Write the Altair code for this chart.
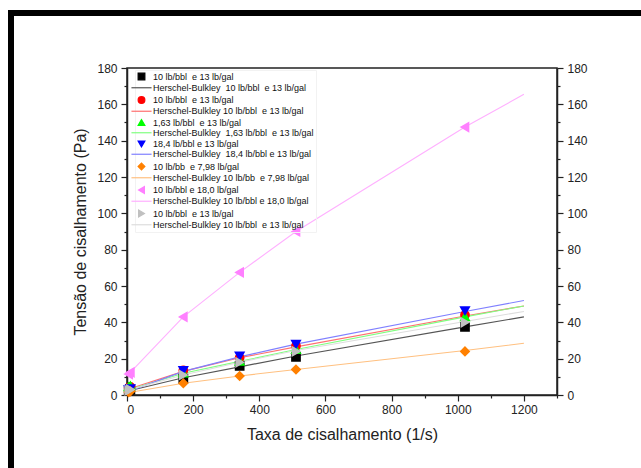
import altair as alt
import pandas as pd

# ---- data ----
keys = ["00", "01", "02", "03", "04", "05", "06", "07", "08", "09", "10", "11", "12", "13"]
labels = [
    "10 lb/bbl  e 13 lb/gal",
    "Herschel-Bulkley  10 lb/bbl  e 13 lb/gal",
    "10 lb/bbl  e 13 lb/gal",
    "Herschel-Bulkley 10 lb/bbl  e 13 lb/gal",
    "1,63 lb/bbl  e 13 lb/gal",
    "Herschel-Bulkley  1,63 lb/bbl  e 13 lb/gal",
    "18,4 lb/bbl e 13 lb/gal",
    "Herschel-Bulkley  18,4 lb/bbl e 13 lb/gal",
    "10 lb/bb  e 7,98 lb/gal",
    "Herschel-Bulkley 10 lb/bb  e 7,98 lb/gal",
    "10 lb/bbl e 18,0 lb/gal",
    "Herschel-Bulkley 10 lb/bbl e 18,0 lb/gal",
    "10 lb/bbl  e 13 lb/gal",
    "Herschel-Bulkley 10 lb/bbl  e 13 lb/gal",
]
colors = ["#000000", "#555555", "#ff0000", "#ff7070", "#00ff00", "#80ff80",
          "#0000ff", "#8080ff", "#ff8000", "#ffc080", "#ff80ff", "#ffb0ff",
          "#c0c0c0", "#dddddd"]
LINE = "M-3,0H3"
shapes = ["square", LINE, "circle", LINE, "triangle-up", LINE, "triangle-down", LINE,
          "diamond", LINE, "triangle-left", LINE, "triangle-right", LINE]

shear_rate = [5.11, 10.22, 170.3, 340.6, 510.9, 1021.8]
pts_black = [2.5, 3.0, 9.0, 16.0, 21.0, 37.5]
pts_red = [4.0, 4.5, 13.5, 20.5, 27.0, 44.0]
pts_green = [4.5, 5.0, 12.0, 18.5, 25.0, 43.0]
pts_blue = [3.0, 3.5, 13.5, 21.5, 28.0, 46.5]
pts_orange = [1.5, 2.0, 6.5, 10.5, 14.0, 24.0]
pts_pink = [11.5, 12.5, 43.0, 67.5, 90.0, 147.5]
pts_gray = [2.5, 3.0, 11.0, 18.0, 24.0, 40.0]

fit_rate = [5.11, 10.22, 170.3, 340.6, 510.9, 1021.8, 1200]
hb_black = [2.0, 2.5, 9.5, 15.5, 21.5, 37.5, 43.0]
hb_red = [3.0, 3.6, 13.0, 20.5, 26.5, 43.5, 49.0]
hb_green = [2.5, 3.2, 12.0, 18.5, 25.0, 43.0, 49.0]
hb_blue = [1.5, 2.3, 13.0, 21.0, 28.0, 46.0, 52.0]
hb_orange = [1.0, 1.5, 6.5, 10.5, 14.0, 24.5, 28.5]
hb_pink = [11.5, 12.5, 43.0, 67.5, 90.0, 147.5, 165.5]
hb_gray = [2.5, 3.0, 11.0, 18.0, 24.5, 40.5, 46.0]

pt_series = [("00", pts_black), ("02", pts_red), ("04", pts_green), ("06", pts_blue),
             ("08", pts_orange), ("10", pts_pink), ("12", pts_gray)]
hb_series = [("01", hb_black), ("03", hb_red), ("05", hb_green), ("07", hb_blue),
             ("09", hb_orange), ("11", hb_pink), ("13", hb_gray)]

pts = pd.DataFrame([{"key": k, "x": x, "y": y}
                    for k, ys in pt_series for x, y in zip(shear_rate, ys)])
fits = pd.DataFrame([{"key": k, "x": x, "y": y, "o": i}
                     for k, ys in hb_series for i, (x, y) in enumerate(zip(fit_rate, ys))])

FONT = "Liberation Sans"
shown = [l.replace("  ", " \u00a0") for l in labels]
label_expr = "[" + ",".join("'" + l + "'" for l in shown) + "][toNumber(datum.label)]"

legend = alt.Legend(
    title=None, orient="none", legendX=8, legendY=2,
    labelExpr=label_expr, labelFont=FONT, labelFontSize=9, labelColor="#111",
    labelLimit=400,
    symbolSize=45, symbolStrokeWidth=1.2, labelOffset=7, rowPadding=0.25,
    padding=2, strokeColor="#f2f2f2",
)
color_scale = alt.Scale(domain=keys, range=colors)
shape_scale = alt.Scale(domain=keys, range=shapes)

x_axis = alt.Axis(
    title="Taxa de cisalhamento (1/s)", values=list(range(0, 1301, 100)),
    labelExpr="datum.value % 200 === 0 && datum.value <= 1200 ? datum.label : ''",
    tickSize=alt.ExprRef(expr="datum.value % 200 === 0 ? 6 : 3"),
    grid=False, domainColor="#222", tickColor="#222", domainWidth=1.5, tickWidth=1.2,
    labelFont=FONT, labelFontSize=12, labelColor="#222", labelPadding=3,
    titleFont=FONT, titleFontSize=16, titleFontWeight="normal", titleColor="#222", titlePadding=11,
    format="d",
)

def y_axis(orient, title):
    kw = dict(
        orient=orient, values=list(range(0, 181, 10)),
        labelExpr="datum.value % 20 === 0 ? datum.label : ''",
        tickSize=alt.ExprRef(expr="datum.value % 20 === 0 ? 6 : 3"),
        grid=False, domainColor="#222", tickColor="#222", domainWidth=1.5, tickWidth=1.2,
        labelFont=FONT, labelFontSize=12, labelColor="#222", labelPadding=4,
        format="d",
    )
    if title:
        kw.update(title=title, titleFont=FONT, titleFontSize=16, titleFontWeight="normal",
                  titleColor="#222", titlePadding=8)
    else:
        kw.update(title=None)
    return alt.Axis(**kw)

xs = alt.Scale(domain=[0, 1300], nice=False)
ys = alt.Scale(domain=[0, 180], nice=False)

lines = alt.Chart(fits).mark_line(strokeWidth=1.1, clip=True).encode(
    x=alt.X("x:Q", scale=xs, axis=x_axis),
    y=alt.Y("y:Q", scale=ys, axis=y_axis("left", "Tensão de cisalhamento (Pa)")),
    color=alt.Color("key:N", scale=color_scale, legend=legend),
    order="o:O",
)

points = alt.Chart(pts).mark_point(filled=True, opacity=1, size=60).encode(
    x=alt.X("x:Q", scale=xs, axis=x_axis),
    y=alt.Y("y:Q", scale=ys, axis=y_axis("right", None)),
    color=alt.Color("key:N", scale=color_scale, legend=legend),
    stroke=alt.Stroke("key:N", scale=color_scale, legend=legend),
    shape=alt.Shape("key:N", scale=shape_scale, legend=legend),
)

frame = alt.Chart(pd.DataFrame({"a": [0]})).mark_rect(
    fillOpacity=0, stroke="#000000", strokeWidth=6
).encode(
    x=alt.value(-116), x2=alt.value(700), y=alt.value(-55), y2=alt.value(600)
)

chart = alt.layer(lines, points, frame).resolve_axis(y="independent").properties(
    width=430, height=327,
    autosize=alt.AutoSizeParams(type="none"),
    padding={"left": 127, "top": 68, "right": 84, "bottom": 73},
).configure_view(stroke="#222", strokeWidth=1.5)

chart.save("out.html", embed_options={"renderer": "svg", "actions": False})
